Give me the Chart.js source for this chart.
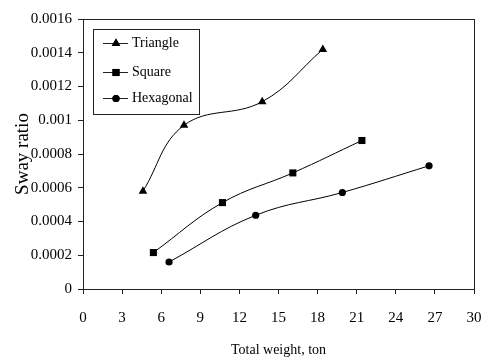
<!DOCTYPE html>
<html>
<head>
<meta charset="utf-8">
<script src="https://cdn.jsdelivr.net/npm/chart.js@4.4.0/dist/chart.umd.min.js"></script>
<style>
  html, body { margin: 0; padding: 0; background: #fff; }
  #wrap { width: 482px; height: 360px; }
</style>
</head>
<body>
<div id="wrap"><canvas id="myChart" width="482" height="360"></canvas></div>
<script>
// Data
const triangleX = [4.6, 7.75, 13.75, 18.4];
const triangleY = [0.00058, 0.00097, 0.00111, 0.00142];
const squareX = [5.4, 10.7, 16.1, 21.4];
const squareY = [0.000216, 0.000512, 0.000688, 0.00088];
const hexX = [6.6, 13.25, 19.9, 26.55];
const hexY = [0.00016, 0.000437, 0.000572, 0.00073];

const seriesNames = ['Triangle', 'Square', 'Hexagonal'];
const xTitle = 'Total weight, ton';
const yTitle = 'Sway ratio';

const fontFamily = '"Liberation Serif", "Times New Roman", serif';

function toPoints(xs, ys) {
    return xs.map((x, i) => ({ x: x, y: ys[i] }));
}

function makeSet(label, xs, ys, style, radius) {
    return {
        label: label,
        data: toPoints(xs, ys),
        borderColor: '#000',
        backgroundColor: '#000',
        borderWidth: 1,
        pointStyle: style,
        pointRadius: radius,
        pointBorderWidth: 0,
        tension: 0.4,
        fill: false,
    };
}

// Frame round the plot area and a boxed legend, like the original
const framePlugin = {
    id: 'frame',
    afterDraw(chart) {
        const ctx = chart.ctx;
        const a = chart.chartArea;
        ctx.save();
        ctx.strokeStyle = '#222';
        ctx.lineWidth = 1;
        ctx.strokeRect(Math.round(a.left) + 0.5, Math.round(a.top) + 0.5,
            Math.round(a.right - a.left), Math.round(a.bottom - a.top));

        // legend box
        const bx = 93, by = 29, bw = 106, bh = 85;
        ctx.strokeRect(bx + 0.5, by + 0.5, bw, bh);
        ctx.font = '14px ' + fontFamily;
        ctx.textBaseline = 'middle';
        ctx.fillStyle = '#000';
        const rows = [43, 72, 98];
        chart.data.datasets.forEach((ds, i) => {
            const y = rows[i] + 0.5;
            ctx.beginPath();
            ctx.moveTo(103, y);
            ctx.lineTo(128, y);
            ctx.stroke();
            Chart.helpers.drawPoint(ctx, {
                pointStyle: ds.pointStyle,
                radius: ds.pointRadius,
                rotation: 0,
                borderWidth: 0
            }, 116, y);
            ctx.fill();
            ctx.fillText(ds.label, 132, rows[i]);
        });
        ctx.restore();
    }
};

const ctx = document.getElementById('myChart').getContext('2d');
const chart = new Chart(ctx, {
    type: 'line',
    data: {
        datasets: [
            makeSet(seriesNames[0], triangleX, triangleY, 'triangle', 5),
            makeSet(seriesNames[1], squareX, squareY, 'rect', 5),
            makeSet(seriesNames[2], hexX, hexY, 'circle', 3.6),
        ]
    },
    options: {
        responsive: false,
        animation: false,
        layout: { padding: { left: 12, right: 8, top: 19, bottom: 1 } },
        plugins: {
            legend: { display: false },
            tooltip: { enabled: false },
        },
        scales: {
            x: {
                type: 'linear',
                min: 0,
                max: 30,
                afterFit(scale) {
                    scale.height = 70;
                    scale.paddingLeft = 0;
                    scale.paddingRight = 0;
                },
                border: { display: true, color: '#222', width: 1 },
                grid: { drawOnChartArea: false, drawTicks: true, tickLength: 5, color: '#222' },
                ticks: {
                    stepSize: 3,
                    color: '#000',
                    padding: 15,
                    font: { family: fontFamily, size: 15 },
                },
                title: {
                    display: true,
                    text: xTitle,
                    color: '#000',
                    font: { family: fontFamily, size: 14 },
                    padding: { top: 0, bottom: 0 },
                },
            },
            y: {
                type: 'linear',
                min: 0,
                max: 0.0016,
                afterFit(scale) { scale.width = 71; },
                border: { display: true, color: '#222', width: 1 },
                grid: { drawOnChartArea: false, drawTicks: true, tickLength: 5, color: '#222' },
                ticks: {
                    stepSize: 0.0002,
                    color: '#000',
                    padding: 6,
                    font: { family: fontFamily, size: 15 },
                    callback: v => Number(v.toFixed(4)).toString(),
                },
                title: {
                    display: true,
                    text: yTitle,
                    color: '#000',
                    font: { family: fontFamily, size: 19 },
                    padding: { top: 0, bottom: 0 },
                },
            },
        },
    },
    plugins: [framePlugin],
});
</script>
</body>
</html>
